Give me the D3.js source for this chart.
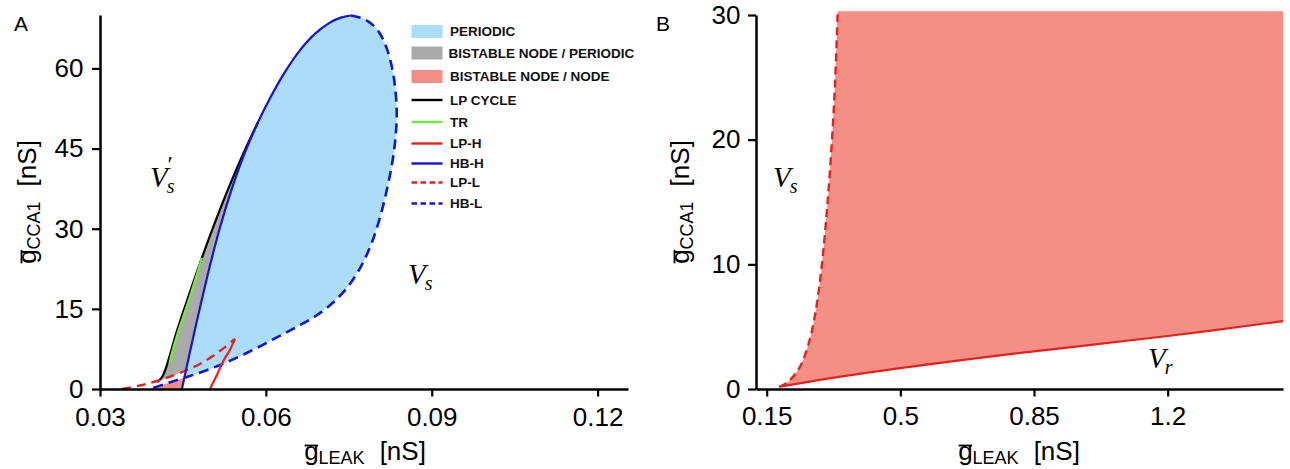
<!DOCTYPE html>
<html><head><meta charset="utf-8">
<script src="https://cdn.jsdelivr.net/npm/d3@7"></script>
<style>
body{margin:0;background:#fff;}
</style></head><body>
<svg id="c" width="1290" height="469"></svg>
<script>
// ---------------- DATA ----------------
// Panel A ticks
const xTicksA = [0.03, 0.06, 0.09, 0.12];
const xTickLabelsA = ["0.03", "0.06", "0.09", "0.12"];
const yTicksA = [0, 15, 30, 45, 60];
// Panel B ticks
const xTicksB = [0.15, 0.5, 0.85, 1.2];
const xTickLabelsB = ["0.15", "0.5", "0.85", "1.2"];
const yTicksB = [0, 10, 20, 30];

// Panel A curves: [gLEAK, gCCA1]
const hbH = [[0.044819,0],[0.046265,6.94],[0.048072,15.19],[0.049880,23.06],[0.051687,30.19],[0.053855,37.5],[0.056205,44.25],[0.058554,49.88],[0.060723,54.38],[0.063434,59.3],[0.066145,63.38],[0.068855,66.47],[0.071566,68.58],[0.073554,69.51],[0.075361,69.9]];
const hbL = [[0.075361,69.9],[0.078072,69.09],[0.080241,67.13],[0.081867,63.75],[0.082952,59.44],[0.083494,55.13],[0.083675,51.38],[0.083494,47.63],[0.082952,42.94],[0.082048,38.06],[0.080783,32.63],[0.079157,27.38],[0.077169,22.88],[0.074819,19.13],[0.072108,16.13],[0.069036,13.69],[0.065602,11.63],[0.061988,9.66],[0.058012,7.5],[0.053855,5.44],[0.049880,3.75],[0.045723,2.25],[0.042289,1.13],[0.039036,0]];
const lpCycle = [[0.040301,1.31],[0.040843,1.78],[0.041386,2.53],[0.041928,3.94],[0.042651,6.38],[0.043916,10.88],[0.045723,16.5],[0.048434,24.56],[0.050783,31.13],[0.053133,37.31],[0.055843,43.88],[0.058554,49.88]];
const tr = [[0.042560,4.69],[0.043012,6.75],[0.044277,11.16],[0.046084,16.69],[0.048434,24.56]];
const lpH = [[0.04988,0],[0.05114,2.63],[0.05241,5.44],[0.05349,7.31],[0.0544,9.38]];
const lpL = [[0.03398,0],[0.03723,0.66],[0.04030,1.5],[0.04355,2.63],[0.04572,3.56],[0.04807,4.69],[0.05042,6.19],[0.05241,7.69],[0.05440,9.38]];
const hbCross = [0.04527, 2.12];   // HB-H meets HB-L
const lpCross = [0.04556, 3.49];   // HB-H meets LP-L

// Panel B curves
const lpLB = [[0.183,0.18],[0.200,0.45],[0.215,0.85],[0.228,1.35],[0.240,1.95],[0.250,2.7],[0.259,3.55],[0.268,4.6],[0.278,6.2],[0.288,8.3],[0.298,11.0],[0.309,14.8],[0.320,19.5],[0.329,24.5],[0.336,30.3]];
const lpHB = [[0.183,0.18],[0.4,1.25],[0.76,2.7],[1.2,4.25],[1.502,5.45]];
const regionTopB = 30.3;
const regionRightB = 1.502;

// Legend
const legendLabels = ["PERIODIC","BISTABLE NODE / PERIODIC","BISTABLE NODE / NODE","LP CYCLE","TR","LP-H","HB-H","LP-L","HB-L"];
const legendKinds = ["rect","rect","rect","line","line","line","line","dash","dash"];
const legendColors = ["#abdcfa","#aaaaaa","#f48f86","#000000","#72ec3c","#e8201c","#1414d4","#e8201c","#1414d4"];

// ---------------- STYLE / LAYOUT ----------------
const SANS = "Liberation Sans, Arial, Helvetica, sans-serif";
const SERIF = "Liberation Serif, Times New Roman, serif";
const C = {blue:"#1414d4", red:"#e8201c", green:"#72ec3c", black:"#000", light:"#abdcfa", gray:"#aaaaaa", pink:"#f48f86"};
const svg = d3.select("#c");

const xA = d3.scaleLinear().domain([0.03,0.1255]).range([100,628]);
const yA = d3.scaleLinear().domain([0,70]).range([389,15]);
const xB = d3.scaleLinear().domain([0.122,1.502]).range([756,1283]);
const yB = d3.scaleLinear().domain([0,30]).range([389,15]);

const curve = d3.curveCatmullRom.alpha(0.5);
const lineA = d3.line().x(d=>xA(d[0])).y(d=>yA(d[1])).curve(curve);
const lineB = d3.line().x(d=>xB(d[0])).y(d=>yB(d[1])).curve(curve);
const linA = d3.line().x(d=>xA(d[0])).y(d=>yA(d[1]));

// ---- Panel A fills ----
const periodic = [hbCross].concat(hbH.filter(d=>d[1]>hbCross[1])).concat(hbL.slice(1).filter(d=>d[1]>hbCross[1]));
svg.append("path").attr("d", lineA(periodic)+"Z").attr("fill", C.light);

const lastBlack = lpCycle[lpCycle.length-1];
const bistableRight = hbH.filter(d=>d[1]<lastBlack[1] && d[1]>lpCross[1]).reverse();
const bistableBottom = [lpCross].concat(lpL.filter(d=>d[0]<lpCross[0] && d[0]>=lpCycle[0][0]).reverse());
const pGray = lineA(lpCycle) + lineA([lastBlack].concat(bistableRight).concat([lpCross])).replace(/^M[^CL]*/,"") + linA(bistableBottom).replace(/^M/,"L") + "Z";
svg.append("path").attr("d", pGray).attr("fill", C.gray);

const nodeA = [hbL[hbL.length-1], hbCross, hbH[0]];
svg.append("path").attr("d", linA(nodeA)+"Z").attr("fill", C.pink);

// ---- Panel A lines ----
function pathA(data, color, w, dash){
  const p = svg.append("path").attr("d", lineA(data)).attr("fill","none").attr("stroke",color).attr("stroke-width",w).attr("stroke-linecap","butt");
  if(dash) p.attr("stroke-dasharray",dash);
  return p;
}
pathA(lpCycle, C.black, 2.2);
pathA(tr, C.green, 2.2);
pathA(lpL, C.red, 2.4, "9,6");
pathA(hbL, C.blue, 2.6, "10,6");
pathA(lpH, C.red, 2.2);
pathA(hbH, C.blue, 2.2);

// ---- Panel B fill + lines ----
const pB = lineB(lpLB) + "L" + xB(regionRightB) + "," + yB(regionTopB) + lineB(lpHB.slice().reverse()).replace(/^M/,"L") + "Z";
svg.append("path").attr("d", pB).attr("fill", C.pink);
svg.append("path").attr("d", lineB(lpLB)).attr("fill","none").attr("stroke",C.red).attr("stroke-width",2.4).attr("stroke-dasharray","8,5");
svg.append("path").attr("d", lineB(lpHB)).attr("fill","none").attr("stroke",C.red).attr("stroke-width",2.2);

// ---- Axes ----
function styleAxis(g){
  g.attr("font-size",26).attr("font-family",SANS);
  g.select(".domain").attr("stroke","#000").attr("stroke-width",2.5);
  g.selectAll(".tick line").attr("stroke","#000").attr("stroke-width",2.2);
  g.selectAll(".tick text").attr("fill","#000");
}
svg.append("g").attr("transform","translate(0,389)")
  .call(d3.axisBottom(xA).tickValues(xTicksA).tickFormat((d,i)=>xTickLabelsA[i]).tickSize(7.5).tickPadding(11).tickSizeOuter(0)).call(styleAxis);
svg.append("g").attr("transform","translate(100,0)")
  .call(d3.axisLeft(yA).tickValues(yTicksA).tickSize(8).tickPadding(8.5).tickSizeOuter(0)).call(styleAxis);
svg.append("g").attr("transform","translate(0,389)")
  .call(d3.axisBottom(xB).tickValues(xTicksB).tickFormat((d,i)=>xTickLabelsB[i]).tickSize(7.5).tickPadding(10.5).tickSizeOuter(0)).call(styleAxis);
svg.append("g").attr("transform","translate(756,0)")
  .call(d3.axisLeft(yB).tickValues(yTicksB).tickSize(8).tickPadding(7.5).tickSizeOuter(0)).call(styleAxis);

// ---- Axis labels (g with overbar) ----
function gLabel(transform, sub){
  const grp = svg.append("g").attr("transform", transform);
  const t = grp.append("text").attr("text-anchor","middle").attr("font-size",26).attr("font-family",SANS).attr("fill","#000");
  t.append("tspan").text("g");
  t.append("tspan").attr("dy",4).attr("font-size",18).text(sub);
  t.append("tspan").attr("dy",-4).attr("dx",15).text("[nS]");
  const e = t.node().getExtentOfChar(0);
  const yb = -14.5;
  grp.append("line").attr("x1",e.x+0.5).attr("x2",e.x+e.width-0.5).attr("y1",yb).attr("y2",yb)
    .attr("stroke","#000").attr("stroke-width",1.8);
}
gLabel("translate(365,460)", "LEAK");
gLabel("translate(1019,460)", "LEAK");
gLabel("translate(36,202) rotate(-90)", "CCA1");
gLabel("translate(689,202) rotate(-90)", "CCA1");

// ---- Panel letters ----
svg.append("text").attr("x",14).attr("y",30.5).attr("font-size",21).attr("font-family",SANS).text("A");
svg.append("text").attr("x",656).attr("y",30.5).attr("font-size",21).attr("font-family",SANS).text("B");

// ---- Region annotations ----
function vLabel(x, y, sub, prime){
  const t = svg.append("text").attr("x",x).attr("y",y).attr("font-family",SERIF)
    .attr("font-style","italic").attr("font-size",29).attr("fill","#000");
  t.append("tspan").text("V");
  t.append("tspan").attr("dy",6).attr("dx",-1).attr("font-size",20).text(sub);
  if(prime) t.append("tspan").attr("dy",-21).attr("dx",-7).attr("font-size",24).attr("font-style","normal").text("\u2032");
}
vLabel(150, 187, "s", true);
vLabel(408, 284, "s", false);
vLabel(773, 187, "s", false);
vLabel(1148, 368, "r", false);

// ---- Legend ----
const legY = [31.5, 53, 76.5, 100, 122, 143.5, 163.5, 182.5, 203.5];
const leg = svg.append("g");
legendLabels.forEach((lab,i)=>{
  const y = legY[i];
  if(legendKinds[i]==="rect"){
    leg.append("rect").attr("x",411.5).attr("y",y-6.5).attr("width",31).attr("height",13).attr("fill",legendColors[i]);
  } else {
    const l = leg.append("line").attr("x1",411.5).attr("x2",442.5).attr("y1",y).attr("y2",y)
      .attr("stroke",legendColors[i]).attr("stroke-width",2.4);
    if(legendKinds[i]==="dash") l.attr("stroke-dasharray","5.5,3.5");
  }
  leg.append("text").attr("x", i===1 ? 448.5 : 450).attr("y",y).attr("dy","0.36em")
    .attr("font-size",13.5).attr("font-weight","bold").attr("font-family",SANS).attr("fill","#111").text(lab);
});
</script>
</body></html>
